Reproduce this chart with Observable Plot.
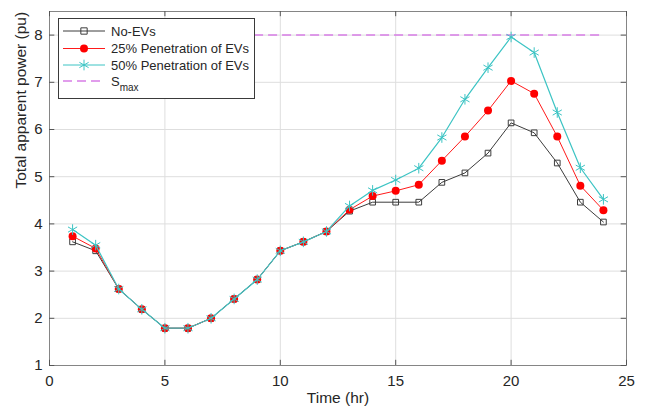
<!DOCTYPE html>
<html>
<head>
<meta charset="utf-8">
<script src="https://cdn.jsdelivr.net/npm/d3@7"></script>
<script src="https://cdn.jsdelivr.net/npm/@observablehq/plot@0.6"></script>
<style>
  html, body { margin: 0; padding: 0; background: #fff; }
  #wrap { position: relative; width: 646px; height: 415px; font-family: "Liberation Sans", Arial, sans-serif; }
  #legend { position: absolute; left: 58px; top: 18px; }
</style>
</head>
<body>
<div id="wrap"><div id="chart"></div><svg id="legend" width="198" height="82"></svg></div>
<script>
const hours = [1,2,3,4,5,6,7,8,9,10,11,12,13,14,15,16,17,18,19,20,21,22,23,24];
const noEVs = [3.62,3.43,2.62,2.19,1.79,1.79,2.0,2.41,2.82,3.43,3.62,3.84,4.27,4.46,4.46,4.46,4.88,5.08,5.50,6.14,5.93,5.29,4.46,4.04];
const pen25 = [3.74,3.48,2.62,2.19,1.79,1.79,2.0,2.41,2.82,3.43,3.62,3.84,4.30,4.59,4.70,4.83,5.34,5.85,6.40,7.03,6.76,5.85,4.81,4.29];
const pen50 = [3.88,3.55,2.62,2.19,1.79,1.79,2.0,2.41,2.82,3.43,3.62,3.84,4.38,4.71,4.93,5.18,5.83,6.64,7.31,7.96,7.63,6.36,5.19,4.52];
const sMax = 8;
const xTicks = [0,5,10,15,20,25];
const yTicks = [1,2,3,4,5,6,7,8];
const seriesNames = ["No-EVs", "25% Penetration of EVs", "50% Penetration of EVs"];

const cBlack = "#3c3c3c", cRed = "#ff1a1a", cCyan = "#3cc4c4", cMag = "#d77de6";

const rows = (vals) => hours.map((h, i) => ({hour: h, value: vals[i]}));
const d0 = rows(noEVs), d1 = rows(pen25), d2 = rows(pen50);

const chart = Plot.plot({
  width: 646,
  height: 415,
  marginLeft: 49,
  marginRight: 20,
  marginTop: 11,
  marginBottom: 50,
  style: {fontFamily: "Liberation Sans, Arial, sans-serif", fontSize: "15px", color: "#262626", background: "#fff"},
  x: {domain: [0, 25], label: null},
  y: {domain: [1, 8.5], label: null},
  marks: [
    Plot.gridX(xTicks, {stroke: "#dedede", strokeOpacity: 1}),
    Plot.gridY(yTicks, {stroke: "#dedede", strokeOpacity: 1}),
    Plot.ruleY([sMax], {x1: hours[0], x2: hours[hours.length - 1], stroke: cMag, strokeWidth: 1.5, strokeDasharray: "9,5"}),
    Plot.line(d0, {x: "hour", y: "value", stroke: cBlack, strokeWidth: 1}),
    Plot.dot(d0, {x: "hour", y: "value", symbol: "square", r: 3.2, stroke: cBlack, fill: "none", strokeWidth: 1}),
    Plot.line(d1, {x: "hour", y: "value", stroke: cRed, strokeWidth: 1}),
    Plot.dot(d1, {x: "hour", y: "value", symbol: "circle", r: 4, fill: "#ff0000", stroke: "none"}),
    Plot.line(d2, {x: "hour", y: "value", stroke: cCyan, strokeWidth: 1.2}),
    Plot.dot(d2, {x: "hour", y: "value", symbol: "asterisk", r: 5, stroke: cCyan, strokeWidth: 1}),
    Plot.frame({stroke: "#858585"}),
    Plot.ruleX(xTicks, {y1: 1, y2: 1.11, stroke: "#555"}),
    Plot.ruleX(xTicks, {y1: 8.39, y2: 8.5, stroke: "#555"}),
    Plot.ruleY(yTicks, {x1: 0, x2: 0.23, stroke: "#555"}),
    Plot.ruleY(yTicks, {x1: 24.77, x2: 25, stroke: "#555"}),
    Plot.axisX(xTicks, {tickSize: 0, tickPadding: 10, label: null, fontSize: 15}),
    Plot.axisY(yTicks, {tickSize: 0, tickPadding: 7, label: null, fontSize: 15}),
    Plot.text(["Time (hr)"], {text: d => d, frameAnchor: "bottom", dy: 37, fontSize: 15.5, fill: "#262626"}),
    Plot.text(["Total apparent power (pu)"], {text: d => d, frameAnchor: "left", dx: -28, rotate: -90, fontSize: 15.5, fill: "#262626"})
  ]
});
document.getElementById("chart").appendChild(chart);

// Legend
const lg = d3.select("#legend");
lg.append("rect").attr("x", 0.5).attr("y", 0.5).attr("width", 196).attr("height", 80)
  .attr("fill", "#fff").attr("stroke", "#3a3a3a").attr("stroke-width", 1);
const items = [
  {name: seriesNames[0], color: cBlack, sym: d3.symbolSquare, size: 40, fill: "none", stroke: cBlack},
  {name: seriesNames[1], color: cRed, sym: d3.symbolCircle, size: 50, fill: "#ff0000", stroke: "none"},
  {name: seriesNames[2], color: cCyan, sym: d3.symbolAsterisk, size: 80, fill: "none", stroke: cCyan}
];
const ys = [13, 30.5, 47];
items.forEach((it, i) => {
  const y = ys[i];
  lg.append("line").attr("x1", 5).attr("x2", 47).attr("y1", y).attr("y2", y).attr("stroke", it.color).attr("stroke-width", 1);
  lg.append("path").attr("d", d3.symbol(it.sym, it.size)()).attr("transform", `translate(26,${y})`)
    .attr("fill", it.fill).attr("stroke", it.stroke);
  lg.append("text").attr("x", 53).attr("y", y).attr("dy", "0.35em").attr("font-size", 13)
    .attr("font-family", "Liberation Sans, Arial, sans-serif").attr("fill", "#262626").text(it.name);
});
lg.append("line").attr("x1", 5).attr("x2", 47).attr("y1", 63).attr("y2", 63)
  .attr("stroke", cMag).attr("stroke-width", 1.5).attr("stroke-dasharray", "9,5");
const t = lg.append("text").attr("x", 53).attr("y", 63).attr("dy", "0.35em").attr("font-size", 13)
  .attr("font-family", "Liberation Sans, Arial, sans-serif").attr("fill", "#262626");
t.append("tspan").text("S");
t.append("tspan").attr("font-size", 10).attr("dy", "5").text("max");
</script>
</body>
</html>
